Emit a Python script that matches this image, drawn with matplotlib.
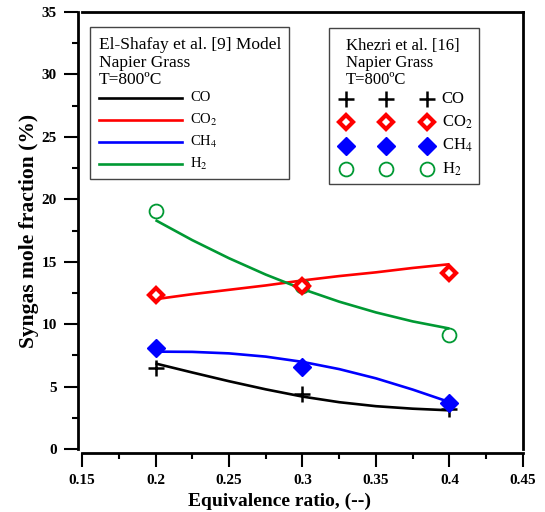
"""Syngas mole fraction vs equivalence ratio: model curves vs Khezri et al. data."""
import matplotlib
matplotlib.use("Agg")
import matplotlib.pyplot as plt
from matplotlib.patches import Rectangle
from matplotlib.lines import Line2D

plt.rcParams["font.family"] = ["Liberation Serif", "DejaVu Serif"]
plt.rcParams["mathtext.fontset"] = "stix"

# model curves (El-Shafay et al. [9])
er_model = [0.2, 0.225, 0.25, 0.275, 0.3, 0.325, 0.35, 0.375, 0.4]
co_model = [6.85, 6.13, 5.43, 4.78, 4.2, 3.75, 3.43, 3.23, 3.1]
co2_model = [12.0, 12.4, 12.75, 13.1, 13.5, 13.85, 14.15, 14.5, 14.8]
ch4_model = [7.8, 7.78, 7.66, 7.4, 6.98, 6.4, 5.66, 4.76, 3.76]
h2_model = [18.33, 16.73, 15.28, 13.97, 12.81, 11.8, 10.94, 10.22, 9.65]

# experimental points (Khezri et al. [16])
er_exp = [0.2, 0.3, 0.4]
co_exp = [6.5, 4.4, 3.2]
co2_exp = [12.35, 13.05, 14.1]
ch4_exp = [8.1, 6.6, 3.65]
h2_exp = [19.05, 13.05, 9.1]

GREEN = "#009933"
species = ["CO", "CO$_2$", "CH$_4$", "H$_2$"]
colors = ["black", "red", "blue", GREEN]
marker_kw = [
    dict(marker="+", ms=11, mew=1.8, color="black", mfc="none"),
    dict(marker="D", ms=7, mew=3, color="red", mfc="white"),
    dict(marker="D", ms=9, mew=1, color="blue", mfc="blue"),
    dict(marker="o", ms=10, mew=1.3, color=GREEN, mfc="none"),
]

fig = plt.figure(figsize=(5.45, 5.12), dpi=100)
ax = fig.add_axes([0.1505, 0.123, 0.809, 0.8536])

for y, c in zip([co_model, co2_model, ch4_model, h2_model], colors):
    ax.plot(er_model, y, color=c, lw=1.9, solid_capstyle="butt")
ax.plot(er_exp, co_exp, ls="none", **marker_kw[0])
ax.plot(er_exp, h2_exp, ls="none", **marker_kw[3])
ax.plot(er_exp, co2_exp, ls="none", **marker_kw[1])
ax.plot(er_exp, ch4_exp, ls="none", **marker_kw[2])

ax.set_xlim(0.15, 0.45)
ax.set_ylim(0, 35)
ax.set_xticks([0.15, 0.2, 0.25, 0.3, 0.35, 0.4, 0.45])
ax.set_xticklabels(["0.15", "0.2", "0.25", "0.3", "0.35", "0.4", "0.45"])
ax.set_xticks([0.175, 0.225, 0.275, 0.325, 0.375, 0.425], minor=True)
ax.set_yticks(range(0, 36, 5))
ax.set_yticks([2.5 + 5 * i for i in range(7)], minor=True)
for s in ax.spines.values():
    s.set_linewidth(2)
ax.spines["left"].set_position(("outward", 3))
ax.spines["bottom"].set_position(("outward", 3))
ax.tick_params(which="major", direction="out", length=10, width=1.5, pad=5,
               labelsize=11, top=False, right=False)
ax.tick_params(which="minor", direction="out", length=4, width=1.5,
               top=False, right=False)
for lab in ax.get_xticklabels() + ax.get_yticklabels():
    lab.set_fontweight("bold")
ax.set_xlabel("Equivalence ratio, (--)", fontsize=14, fontweight="bold")
ax.set_ylabel("Syngas mole fraction (%)", fontsize=15.5, fontweight="bold")
ax.xaxis.set_label_coords(0.449, -0.1)
ax.yaxis.set_label_coords(-0.097, 0.5)

# left legend box: model
T = ax.transAxes
ax.add_patch(Rectangle((0.018, 0.618), 0.451, 0.348, transform=T, fill=False,
                       ec="#444444", lw=1, zorder=5))
for i, line in enumerate(["El-Shafay et al. [9] Model", "Napier Grass", "T=800ºC"]):
    ax.text(0.0385, 0.924 - 0.04 * i, line, transform=T, fontsize=12.5, va="center")
for i, (lab, c) in enumerate(zip(species, colors)):
    yy = 0.804 - 0.0508 * i
    ax.add_line(Line2D([0.0385, 0.227], [yy, yy], transform=T, color=c, lw=1.9))
    ax.text(0.245, yy, lab, transform=T, fontsize=10.5, va="center")

# right legend box: experiment
ax.add_patch(Rectangle((0.560, 0.606), 0.340, 0.357, transform=T, fill=False,
                       ec="#444444", lw=1, zorder=5))
for i, line in enumerate(["Khezri et al. [16]", "Napier Grass", "T=800ºC"]):
    ax.text(0.599, 0.922 - 0.039 * i, line, transform=T, fontsize=12, va="center")
for i, (lab, kw) in enumerate(zip(species, marker_kw)):
    yy = 0.801 - 0.0533 * i
    ax.add_line(Line2D([0.599, 0.689, 0.782], [yy] * 3, transform=T, ls="none", **kw))
    ax.text(0.816, yy, lab, transform=T, fontsize=12, va="center")

fig.savefig("out.png", dpi=100)
